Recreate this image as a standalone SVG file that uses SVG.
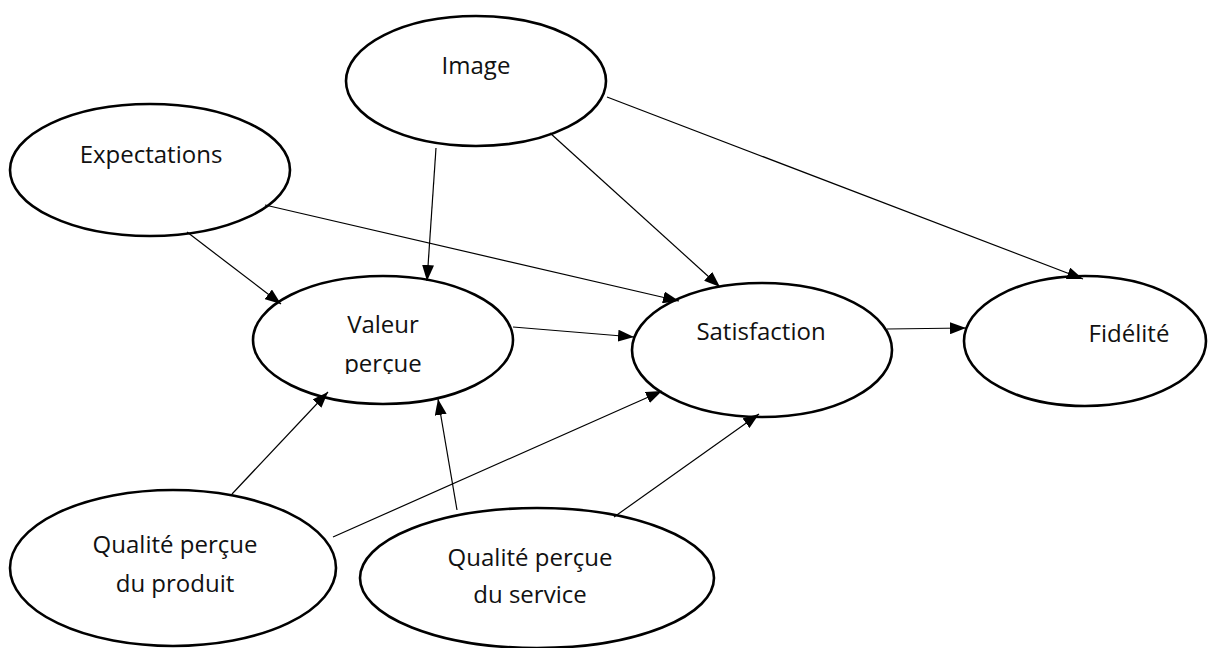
<svg xmlns="http://www.w3.org/2000/svg" width="1214" height="648" viewBox="0 0 1214 648">
  <style>
    .node ellipse { fill: #fff; stroke: #000; stroke-width: 2.6; }
    .node text { font-family: "Open Sans", Lato, "Liberation Sans", sans-serif; font-size: 24px; fill: #111; text-anchor: middle; }
    .edge { stroke: #000; stroke-width: 1.2; fill: none; marker-end: url(#arrow); }
  </style>
  <defs>
    <marker id="arrow" markerUnits="userSpaceOnUse" markerWidth="16" markerHeight="12" refX="16" refY="6" orient="auto">
      <path d="M0,0 L16,6 L0,12 z" fill="#000"/>
    </marker>
    <!-- the second line of "Valeur perçue" is cut just under its baseline -->
    <clipPath id="valeurClip">
      <rect x="250" y="280" width="270" height="94"/>
    </clipPath>
  </defs>

  <g id="image" class="node">
    <ellipse cx="476" cy="81" rx="130" ry="65"/>
    <text x="476" y="74">Image</text>
  </g>
  <g id="expectations" class="node">
    <ellipse cx="150" cy="170" rx="140" ry="66"/>
    <text x="151" y="163">Expectations</text>
  </g>
  <g id="valeur" class="node">
    <ellipse cx="383" cy="340" rx="130" ry="64"/>
    <g clip-path="url(#valeurClip)">
      <text x="383" y="333">Valeur</text>
      <text x="383" y="372">perçue</text>
    </g>
  </g>
  <g id="satisfaction" class="node">
    <ellipse cx="762" cy="350" rx="130" ry="67"/>
    <text x="761" y="340">Satisfaction</text>
  </g>
  <g id="fidelite" class="node">
    <ellipse cx="1085" cy="341" rx="121" ry="65"/>
    <text x="1129" y="342">Fidélité</text>
  </g>
  <g id="qualite-produit" class="node">
    <ellipse cx="173" cy="568" rx="163" ry="78"/>
    <text x="175" y="553">Qualité perçue</text>
    <text x="175" y="592">du produit</text>
  </g>
  <g id="qualite-service" class="node">
    <ellipse cx="537" cy="578" rx="177" ry="70"/>
    <text x="530" y="566">Qualité perçue</text>
    <text x="530" y="603">du service</text>
  </g>

  <g id="connectors">
    <line class="edge" x1="436" y1="148" x2="427" y2="281"/>
    <line class="edge" x1="187" y1="232" x2="281" y2="304"/>
    <line class="edge" x1="265" y1="205" x2="679" y2="301"/>
    <line class="edge" x1="550" y1="133" x2="720" y2="287"/>
    <line class="edge" x1="607" y1="97" x2="1083" y2="279"/>
    <line class="edge" x1="513" y1="327" x2="634" y2="337"/>
    <line class="edge" x1="887" y1="329" x2="966" y2="328"/>
    <line class="edge" x1="232" y1="494" x2="328" y2="392"/>
    <line class="edge" x1="457" y1="510" x2="438" y2="399"/>
    <line class="edge" x1="333" y1="537" x2="662" y2="391"/>
    <line class="edge" x1="614" y1="517" x2="759" y2="414"/>
  </g>
</svg>
